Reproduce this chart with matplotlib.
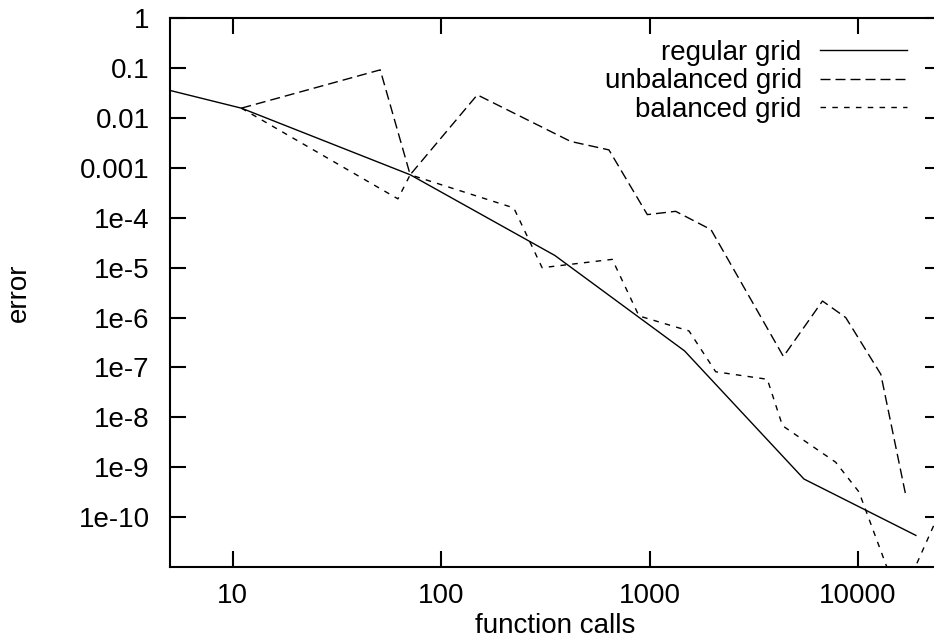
import matplotlib
matplotlib.use("Agg")
import matplotlib.pyplot as plt
from matplotlib.ticker import FixedLocator, FixedFormatter, NullLocator

plt.rcParams['font.family'] = ['Liberation Sans', 'DejaVu Sans']

# error vs. number of function calls for the three grid types
regular_calls = [1, 11, 71, 351, 1471, 5503, 18943]
regular_err = [0.19, 0.0158, 7.3e-4, 1.76e-5, 2.15e-7, 5.8e-10, 4.3e-11]

unbalanced_calls = [11, 51, 71, 149, 418, 638, 975, 1333, 1970, 4385,
                    6750, 8730, 12860, 16950]
unbalanced_err = [0.0158, 0.0925, 7.3e-4, 0.0292, 3.4e-3, 2.3e-3, 1.16e-4,
                  1.35e-4, 5.8e-5, 1.66e-7, 2.15e-6, 1.0e-6, 7.3e-8, 2.7e-10]

balanced_calls = [11, 62, 71, 223, 305, 662, 889, 1545, 2075, 3670, 4340,
                  7810, 10100, 15850, 30000]
balanced_err = [0.0158, 2.4e-4, 7.3e-4, 1.58e-4, 1.0e-5, 1.47e-5, 1.08e-6,
                5.4e-7, 8.2e-8, 5.8e-8, 6.8e-9, 1.26e-9, 3.2e-10, 2e-12, 8e-10]

xticks = [10, 100, 1000, 10000]
xtick_labels = ['10', '100', '1000', '10000']
yticks = [1, 0.1, 0.01, 0.001, 1e-4, 1e-5, 1e-6, 1e-7, 1e-8, 1e-9, 1e-10]
ytick_labels = ['1', '0.1', '0.01', '0.001', '1e-4', '1e-5', '1e-6',
                '1e-7', '1e-8', '1e-9', '1e-10']

W, H = 934, 639
fig = plt.figure(figsize=(W / 100, H / 100), dpi=100)
# plot frame runs a little past the right edge of the image
ax = fig.add_axes([170 / W, 1 - 567 / H, (941 - 170) / W, (567 - 18.3) / H])

fs = 20
l1, = ax.plot(regular_calls, regular_err, color='black', lw=1.0,
              label='regular grid')
l2, = ax.plot(unbalanced_calls, unbalanced_err, color='black', lw=1.0,
              dashes=(7.2, 3.6), label='unbalanced grid')
l3, = ax.plot(balanced_calls, balanced_err, color='black', lw=1.0,
              dashes=(4.0, 4.5), label='balanced grid')

ax.set_xscale('log')
ax.set_yscale('log')
ax.set_xlim(5, 25000)
ax.set_ylim(1e-11, 1)

ax.xaxis.set_major_locator(FixedLocator(xticks))
ax.xaxis.set_major_formatter(FixedFormatter(xtick_labels))
ax.xaxis.set_minor_locator(NullLocator())
ax.yaxis.set_major_locator(FixedLocator(yticks))
ax.yaxis.set_major_formatter(FixedFormatter(ytick_labels))
ax.yaxis.set_minor_locator(NullLocator())

ax.tick_params(which='major', direction='in', length=11.5, width=1.5,
               top=True, right=True, labelsize=fs, colors='black')
ax.tick_params(axis='x', pad=11.5)
ax.tick_params(axis='y', pad=14.5)
for sp in ax.spines.values():
    sp.set_linewidth(1.5)

fig.text(555.5 / W, 1 - 633 / H, 'function calls', fontsize=fs,
         ha='center', va='baseline')
fig.text(18.5 / W, 1 - 292.7 / H, 'error', fontsize=fs, rotation=90,
         ha='center', va='center')

ax.legend(handles=[l1, l2, l3], loc='upper right', frameon=False,
          fontsize=fs, markerfirst=False, borderpad=0, borderaxespad=0,
          handlelength=3.12, handletextpad=0.66, labelspacing=0.1,
          bbox_to_anchor=(906.7 / W, 1 - 39.5 / H),
          bbox_transform=fig.transFigure)

fig.savefig('out.png', dpi=100)
